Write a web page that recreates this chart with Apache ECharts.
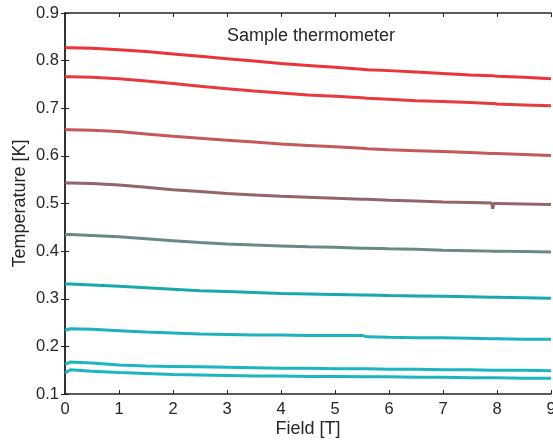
<!DOCTYPE html>
<html>
<head>
<meta charset="utf-8">
<script src="https://cdn.jsdelivr.net/npm/echarts@6/dist/echarts.min.js"></script>
<style>
    html, body { margin: 0; padding: 0; background: #fff; }
    #main { width: 553px; height: 444px; }
</style>
</head>
<body>
<div id="main"></div>
<script>
// field values (T) shared by all curves
var field = [0, 0.1, 0.5, 1, 1.5, 2, 2.5, 3, 3.5, 4, 4.5, 5, 5.5, 5.6, 6, 6.5, 7, 7.5, 7.9, 7.92, 7.94, 8, 8.5, 9];

// temperature curves (K), top to bottom
var t1 = [0.827, 0.827, 0.826, 0.823, 0.819, 0.814, 0.809, 0.804, 0.799, 0.794, 0.790, 0.786, 0.782, 0.781, 0.779, 0.776, 0.773, 0.770, 0.768, 0.768, 0.768, 0.767, 0.765, 0.762];
var t2 = [0.766, 0.766, 0.765, 0.762, 0.757, 0.752, 0.746, 0.741, 0.736, 0.732, 0.728, 0.725, 0.722, 0.721, 0.719, 0.716, 0.714, 0.712, 0.710, 0.710, 0.710, 0.709, 0.707, 0.705];
var t3 = [0.655, 0.655, 0.654, 0.651, 0.646, 0.641, 0.637, 0.633, 0.629, 0.625, 0.622, 0.619, 0.616, 0.615, 0.613, 0.611, 0.609, 0.607, 0.605, 0.605, 0.605, 0.605, 0.603, 0.601];
var t4 = [0.543, 0.543, 0.542, 0.539, 0.534, 0.529, 0.525, 0.521, 0.518, 0.515, 0.513, 0.511, 0.509, 0.509, 0.507, 0.505, 0.503, 0.502, 0.501, 0.489, 0.500, 0.500, 0.499, 0.498];
var t5 = [0.435, 0.435, 0.433, 0.430, 0.426, 0.422, 0.418, 0.415, 0.413, 0.411, 0.409, 0.408, 0.406, 0.406, 0.405, 0.404, 0.402, 0.401, 0.400, 0.400, 0.400, 0.400, 0.399, 0.398];
var t6 = [0.331, 0.331, 0.329, 0.326, 0.323, 0.320, 0.317, 0.315, 0.313, 0.311, 0.310, 0.309, 0.308, 0.308, 0.307, 0.306, 0.305, 0.304, 0.303, 0.303, 0.303, 0.303, 0.302, 0.301];
var t7 = [0.234, 0.237, 0.236, 0.233, 0.230, 0.228, 0.226, 0.225, 0.224, 0.224, 0.223, 0.223, 0.223, 0.220, 0.219, 0.218, 0.218, 0.217, 0.216, 0.216, 0.216, 0.216, 0.215, 0.215];
var t8 = [0.162, 0.167, 0.165, 0.161, 0.159, 0.158, 0.157, 0.156, 0.155, 0.154, 0.154, 0.153, 0.153, 0.153, 0.152, 0.152, 0.151, 0.151, 0.150, 0.150, 0.150, 0.150, 0.150, 0.149];
var t9 = [0.144, 0.151, 0.148, 0.145, 0.143, 0.141, 0.140, 0.139, 0.138, 0.138, 0.137, 0.137, 0.136, 0.136, 0.136, 0.135, 0.135, 0.134, 0.134, 0.134, 0.134, 0.134, 0.133, 0.133];

var curves = [t1, t2, t3, t4, t5, t6, t7, t8, t9];
var colors = ['#ea3439', '#e83a3e', '#c55858', '#946566', '#698888', '#19a8ab', '#1db3bc', '#1db5bf', '#1db5bf'];

var xTicks = ['0', '1', '2', '3', '4', '5', '6', '7', '8', '9'];

var font = 'Liberation Sans, Arial, sans-serif';
var ink = '#262626';

function pairs(ys) {
    return field.map(function (x, i) { return [x, ys[i]]; });
}

var myChart = echarts.init(document.getElementById('main'));
var option = {
    animation: false,
    grid: { left: 65, right: 2, top: 13, bottom: 50, outerBoundsMode: 'none', containLabel: false },
    xAxis: [{
        type: 'value', min: 0, max: 9, interval: 1,
        name: 'Field [T]', nameLocation: 'middle', nameGap: 26, nameMoveOverlap: false,
        nameTextStyle: { fontFamily: font, fontSize: 18, color: ink },
        axisLine: { lineStyle: { color: ink, width: 1.5 } },
        axisTick: { inside: true, length: 4, lineStyle: { color: ink } },
        axisLabel: { fontFamily: font, fontSize: 16.5, color: ink, margin: 7,
            formatter: function (v) { return xTicks[Math.round(v)]; } },
        splitLine: { show: false }
    }, {
        type: 'value', position: 'top', min: 0, max: 9, interval: 1,
        axisLine: { show: true, lineStyle: { color: ink, width: 1.5 } },
        axisTick: { inside: true, length: 4, lineStyle: { color: ink } },
        axisLabel: { show: false },
        splitLine: { show: false }
    }],
    yAxis: [{
        type: 'value', min: 0.1, max: 0.9, interval: 0.1,
        name: 'Temperature [K]', nameLocation: 'middle', nameGap: 36, nameMoveOverlap: false,
        nameTextStyle: { fontFamily: font, fontSize: 18, color: ink },
        axisLine: { show: true, lineStyle: { color: ink, width: 1.5 } },
        axisTick: { inside: true, length: 4, lineStyle: { color: ink } },
        axisLabel: { fontFamily: font, fontSize: 16.5, color: ink, margin: 6,
            formatter: function (v) { return v.toFixed(1); } },
        splitLine: { show: false }
    }, {
        type: 'value', position: 'right', min: 0.1, max: 0.9, interval: 0.1,
        axisLine: { show: true, lineStyle: { color: ink, width: 1.5 } },
        axisTick: { inside: true, length: 4, lineStyle: { color: ink } },
        axisLabel: { show: false },
        splitLine: { show: false }
    }],
    graphic: [{
        type: 'text', left: 227, top: 27,
        style: { text: 'Sample thermometer', font: '18px ' + font, fill: ink }
    }],
    series: curves.map(function (ys, i) {
        return {
            type: 'line',
            data: pairs(ys),
            showSymbol: false,
            lineStyle: { color: colors[i], width: 3 },
            z: 2
        };
    })
};
myChart.setOption(option);
</script>
</body>
</html>
